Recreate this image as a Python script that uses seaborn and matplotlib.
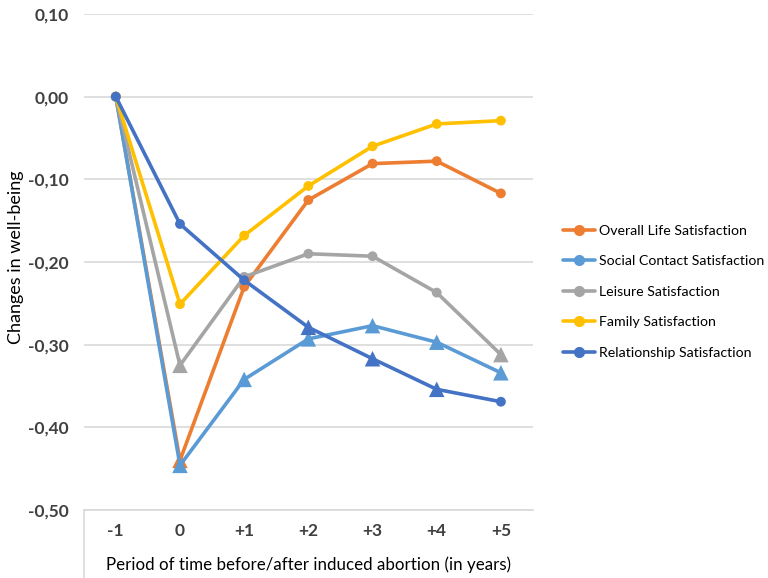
import matplotlib
matplotlib.use("Agg")
import matplotlib.pyplot as plt
import matplotlib.lines as mlines
import seaborn as sns
import pandas as pd

# Time points relative to the induced abortion (years)
periods = ["-1", "0", "+1", "+2", "+3", "+4", "+5"]

overall_life = [0.0, -0.440, -0.230, -0.125, -0.081, -0.078, -0.117]
social_contact = [0.0, -0.446, -0.342, -0.293, -0.277, -0.297, -0.334]
leisure = [0.0, -0.325, -0.218, -0.190, -0.193, -0.237, -0.312]
family = [0.0, -0.251, -0.168, -0.108, -0.060, -0.033, -0.029]
relationship = [0.0, -0.154, -0.222, -0.279, -0.317, -0.354, -0.369]

# Marker shape per point: "t" = triangle, "c" = circle
overall_life_mk = ["c", "t", "c", "c", "c", "c", "c"]
social_contact_mk = ["c", "t", "t", "t", "t", "t", "t"]
leisure_mk = ["c", "t", "c", "c", "c", "c", "t"]
family_mk = ["c", "c", "c", "c", "c", "c", "c"]
relationship_mk = ["c", "c", "c", "t", "t", "t", "c"]

series_names = ["Overall Life Satisfaction", "Social Contact Satisfaction",
                "Leisure Satisfaction", "Family Satisfaction",
                "Relationship Satisfaction"]
series_values = [overall_life, social_contact, leisure, family, relationship]
series_markers = [overall_life_mk, social_contact_mk, leisure_mk, family_mk,
                  relationship_mk]
colors = ["#ED7D31", "#5B9BD5", "#A5A5A5", "#FFC000", "#4472C4"]

y_ticks = [0.10, 0.00, -0.10, -0.20, -0.30, -0.40, -0.50]
y_tick_labels = ["0,10", "0,00", "-0,10", "-0,20", "-0,30", "-0,40", "-0,50"]

rows = []
for name, vals, mks in zip(series_names, series_values, series_markers):
    for i, (p, v, m) in enumerate(zip(periods, vals, mks)):
        rows.append({"series": name, "idx": i, "period": p, "value": v,
                     "marker": m})
df = pd.DataFrame(rows)

sns.set_theme(style="white")
plt.rcParams["font.family"] = ["Lato", "DejaVu Sans"]
text_color = "#404040"

fig = plt.figure(figsize=(7.68, 5.78), dpi=100)
ax = fig.add_axes([0.109, 0.1176, 0.585, 0.8582])

for z, (name, color) in enumerate(zip(series_names, colors)):
    sub = df[df["series"] == name]
    sns.lineplot(data=sub, x="idx", y="value", color=color, linewidth=2.6,
                 sort=False, ax=ax, zorder=3 + 2 * z, legend=False)
    sns.scatterplot(data=sub, x="idx", y="value", style="marker",
                    markers={"c": "o", "t": "^"},
                    size="marker", sizes={"c": 50, "t": 125},
                    color=color, edgecolor=color, linewidth=0,
                    ax=ax, zorder=4 + 2 * z, legend=False)

ax.set_xlim(-0.5, 6.5)
ax.set_ylim(-0.5, 0.1)
ax.set_yticks(y_ticks)
ax.set_yticklabels(y_tick_labels)
ax.set_xticks(range(len(periods)))
ax.set_xticklabels(periods)
ax.tick_params(axis="both", length=0, labelsize=12.5, colors=text_color)
ax.tick_params(axis="y", pad=11)
ax.tick_params(axis="x", pad=9)
for lbl in ax.get_xticklabels() + ax.get_yticklabels():
    lbl.set_fontweight("bold")

ax.grid(axis="y", color="#D9D9D9", linewidth=1.2, zorder=0)
ax.set_axisbelow(True)
for s in ["top", "right", "left"]:
    ax.spines[s].set_visible(False)
ax.spines["bottom"].set_color("#D9D9D9")
ax.spines["bottom"].set_linewidth(1.2)

# short frame edge below the category axis
ax.plot([-0.5, -0.5], [-0.5, -0.5 - 0.6 * 68 / 496], color="#D9D9D9",
        linewidth=1.2, clip_on=False)

ax.set_xlabel("Period of time before/after induced abortion (in years)",
              fontsize=12.2, color="#000000")
ax.xaxis.set_label_coords(0.5, -0.093)
ax.set_ylabel("Changes in well-being", fontsize=13, color="#000000")
ax.yaxis.set_label_coords(-0.134, 0.51)

handles = [mlines.Line2D([], [], color=c, linewidth=2.6, marker="o",
                         markersize=7) for c in colors]
leg = fig.legend(handles, series_names, loc="upper left",
                 bbox_to_anchor=(0.716, 0.633), frameon=False, fontsize=10.2,
                 handlelength=2.3, handletextpad=0.3, labelspacing=1.3)
for t in leg.get_texts():
    t.set_color("#000000")

fig.savefig("out.png", dpi=100)
